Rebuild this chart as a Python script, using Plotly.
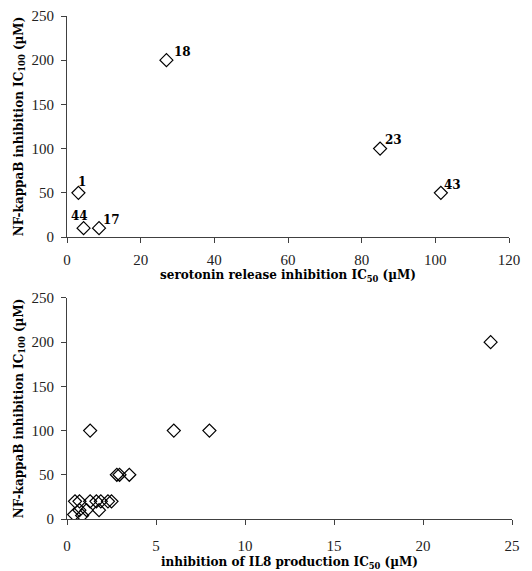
import plotly.graph_objects as go

# Top chart: serotonin release inhibition vs NF-kappaB inhibition
sero_x = [3.1, 27.0, 85.0, 101.5, 4.5, 8.7]
sero_y = [50, 200, 100, 50, 10, 10]
sero_labels = ["1", "18", "23", "43", "44", "17"]

# Bottom chart: IL8 production inhibition vs NF-kappaB inhibition
il8_x = [0.45, 0.7, 1.3, 1.65, 1.9, 2.3, 2.5,
         0.4, 0.85, 0.7, 1.1, 1.8,
         2.8, 2.95, 3.5,
         1.3, 6.0, 8.0, 23.8]
il8_y = [20, 20, 20, 20, 20, 20, 20,
         5, 4, 10, 10, 10,
         50, 50, 50,
         100, 100, 100, 200]

x1_ticks = [0, 20, 40, 60, 80, 100, 120]
x2_ticks = [0, 5, 10, 15, 20, 25]
y_ticks = [0, 50, 100, 150, 200, 250]

TICKFONT = "Liberation Serif"
TITLEFONT = "DejaVu Serif"
axis_color = "#404040"

marker = dict(symbol="diamond-open", size=10, color="black", line=dict(width=1.2, color="black"))

fig = go.Figure()
fig.add_trace(go.Scatter(x=sero_x, y=sero_y, mode="markers", marker=marker,
                         xaxis="x", yaxis="y", showlegend=False))
fig.add_trace(go.Scatter(x=il8_x, y=il8_y, mode="markers", marker=marker,
                         xaxis="x2", yaxis="y2", showlegend=False))

# label offsets in pixels (xshift, yshift)
offsets = {"1": (4, 11), "18": (16, 8), "23": (13, 9), "43": (12, 8), "44": (-4, 12), "17": (12, 8)}
for x, y, t in zip(sero_x, sero_y, sero_labels):
    dx, dy = offsets[t]
    fig.add_annotation(x=x, y=y, xref="x", yref="y", text="<b>%s</b>" % t, showarrow=False,
                       xshift=dx, yshift=dy, font=dict(family=TITLEFONT, size=12, color="black"))

common_axis = dict(showline=True, linecolor=axis_color, linewidth=1, ticks="outside",
                   tickcolor=axis_color, ticklen=5, showgrid=False, zeroline=False,
                   automargin=False,
                   tickfont=dict(family=TICKFONT, size=15, color="#222"))

title_font = dict(family=TITLEFONT, size=12, color="black")
ytitle = "<b>NF-kappaB inhibition IC<sub>100</sub> (\u00b5M)</b>"

# page body has an 8px margin, so the figure is 8px smaller than the window on each side
fig.update_layout(
    width=524, height=563,
    margin=dict(l=59, r=20, t=8, b=52),
    paper_bgcolor="white", plot_bgcolor="white",
    xaxis=dict(**common_axis, range=[0, 120], tickvals=x1_ticks, domain=[0, 442 / 445],
               anchor="y", ticklabelstandoff=4,
               title=dict(text="<b>serotonin release inhibition IC<sub>50</sub> (\u00b5M)</b>",
                          font=title_font, standoff=2)),
    yaxis=dict(**common_axis, range=[0, 250], tickvals=y_ticks, domain=[0.5606, 1.0],
               anchor="x", ticklabelstandoff=4,
               title=dict(text=ytitle, font=title_font, standoff=5)),
    xaxis2=dict(**common_axis, range=[0, 25], tickvals=x2_ticks, domain=[0, 1],
                anchor="y2", ticklabelstandoff=8,
                title=dict(text="<b>inhibition of IL8 production IC<sub>50</sub> (\u00b5M)</b>",
                           font=title_font, standoff=5)),
    yaxis2=dict(**common_axis, range=[0, 250], tickvals=y_ticks, domain=[0, 0.4394],
                anchor="x2", ticklabelstandoff=4,
                title=dict(text=ytitle, font=title_font, standoff=5)),
)

fig.write_html("out.html")
